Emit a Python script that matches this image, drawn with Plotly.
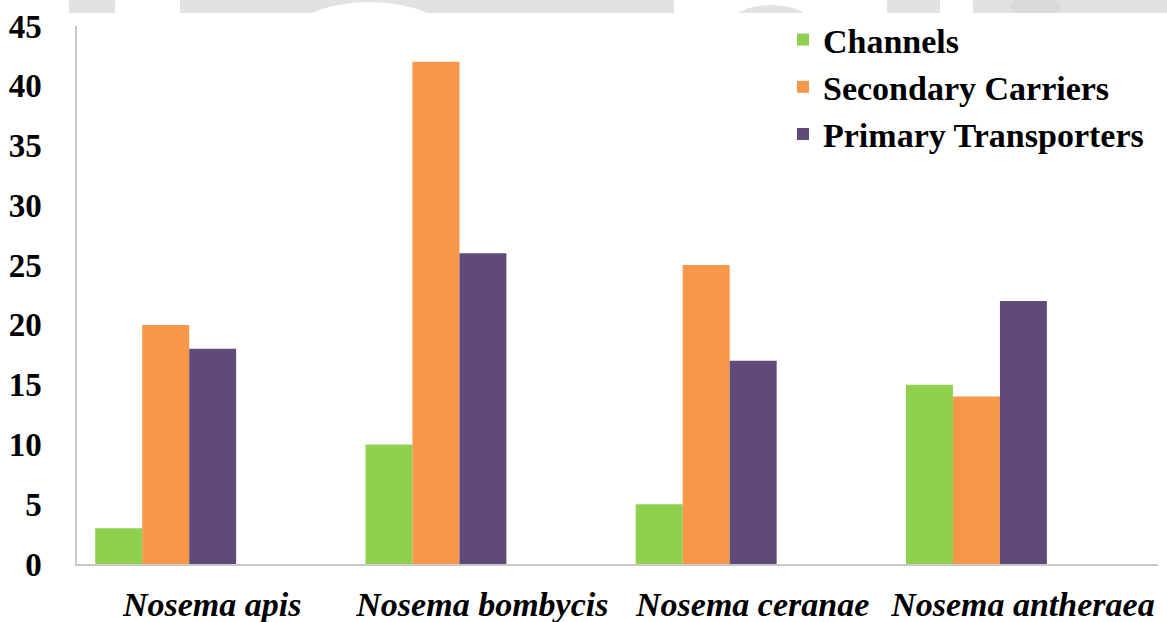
import plotly.graph_objects as go

# Membrane transporter counts per Nosema species
species = ["Nosema apis", "Nosema bombycis", "Nosema ceranae", "Nosema antheraea"]
channels = [3, 10, 5, 15]
secondary_carriers = [20, 42, 25, 14]
primary_transporters = [18, 26, 17, 22]

series_names = ["Channels", "Secondary Carriers", "Primary Transporters"]
series_values = [channels, secondary_carriers, primary_transporters]
series_colors = ["#8fd14f", "#f6974a", "#5f4a7a"]

y_ticks = list(range(0, 50, 5))

W, H = 1167, 622
ML, MR, MT, MB = 77, 9, 26, 58
PW, PH = W - ML - MR, H - MT - MB


def px_x(p):
    return (p - ML) / PW


def px_y(p):
    return 1 + (MT - p) / PH


SERIF = "Liberation Serif, Times New Roman, serif"

fig = go.Figure()

# five slots per category, the last two left empty
slot = 0.1738
start = -0.4325
for i, (name, vals, col) in enumerate(zip(series_names, series_values, series_colors)):
    fig.add_trace(go.Bar(
        x=species, y=vals, name=name,
        marker=dict(color=col, line=dict(width=0)),
        width=slot, offset=start + i * slot,
        legendgroup=name,
    ))

# faint grey banner along the top edge
GREY = "#e2e2e2"
shapes = [dict(type="rect", xref="paper", yref="paper",
               x0=px_x(0), x1=px_x(W), y0=px_y(13), y1=px_y(0),
               fillcolor=GREY, line=dict(width=0), layer="below")]
for a, b in [(0, 69), (115, 180), (674, 887), (940, 973)]:
    shapes.append(dict(type="rect", xref="paper", yref="paper",
                       x0=px_x(a), x1=px_x(b), y0=px_y(13.5), y1=px_y(-1),
                       fillcolor="white", line=dict(width=0), layer="below"))
shapes.append(dict(type="circle", xref="paper", yref="paper",
                   x0=px_x(287), x1=px_x(452), y0=px_y(80), y1=px_y(2),
                   fillcolor="white", line=dict(width=0), layer="below"))
shapes.append(dict(type="circle", xref="paper", yref="paper",
                   x0=px_x(730), x1=px_x(812), y0=px_y(45), y1=px_y(5),
                   fillcolor=GREY, line=dict(width=0), layer="below"))
shapes.append(dict(type="circle", xref="paper", yref="paper",
                   x0=px_x(1010), x1=px_x(1060), y0=px_y(18), y1=px_y(-4),
                   fillcolor="#dadada", line=dict(width=0), layer="below"))
shapes.append(dict(type="rect", xref="paper", yref="paper",
                   x0=px_x(0), x1=px_x(W), y0=px_y(90), y1=px_y(13),
                   fillcolor="white", line=dict(width=0), layer="below"))

fig.update_layout(
    width=W, height=H,
    margin=dict(l=ML, r=MR, t=MT, b=MB),
    paper_bgcolor="white", plot_bgcolor="white",
    barmode="group",
    shapes=shapes,
    showlegend=True,
    legend=dict(
        x=px_x(783), y=px_y(11), xanchor="left", yanchor="top",
        font=dict(family=SERIF, size=34, color="black", weight="bold"),
        bgcolor="rgba(0,0,0,0)", tracegroupgap=0,
    ),
    xaxis=dict(
        type="category", showgrid=False, showline=True, linecolor="#c8c8c8",
        linewidth=1.5, ticks="", zeroline=False, automargin=False,
        tickfont=dict(family=SERIF, size=34, color="black", weight="bold", style="italic"),
        ticklabelstandoff=9,
    ),
    yaxis=dict(
        range=[0, 45], tickvals=y_ticks, showgrid=False, showline=True,
        linecolor="#c8c8c8", linewidth=1.5, ticks="", zeroline=False, automargin=False,
        tickfont=dict(family=SERIF, size=33, color="black", weight="bold"),
        ticklabelstandoff=27,
    ),
)

fig.write_html("out.html")
